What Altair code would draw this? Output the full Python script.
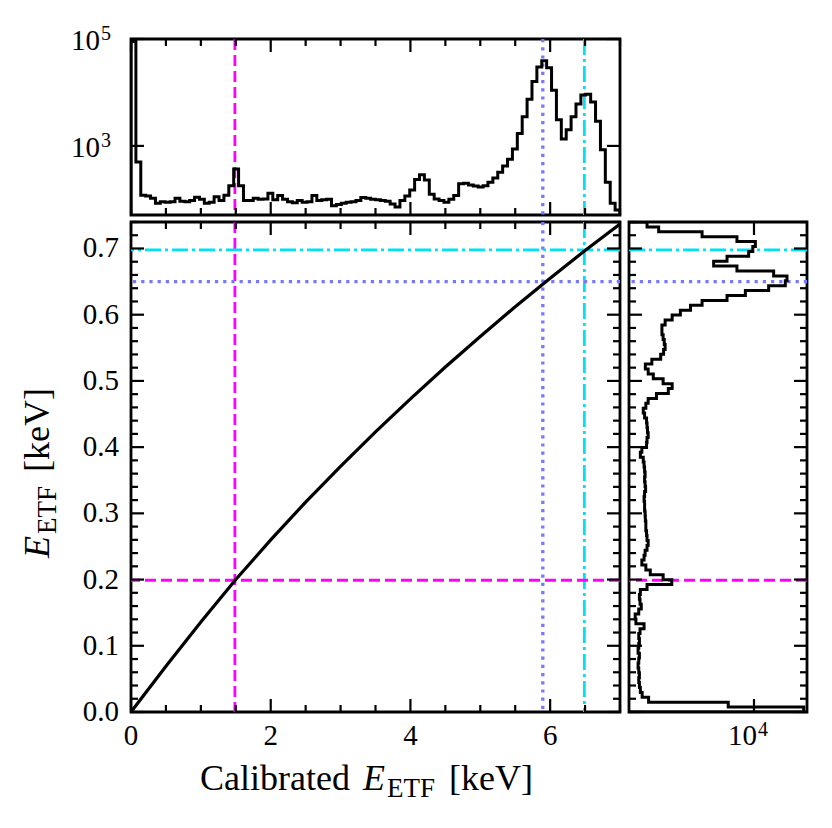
import altair as alt
import pandas as pd

FONT = "Liberation Serif"

# ---------------- data ----------------
CURVE_X = [0, 0.5, 1, 1.5, 2, 2.5, 3, 3.5, 4, 4.5, 5, 5.5, 6, 6.5, 7]
CURVE_Y = [0.0, 0.069, 0.136, 0.200, 0.260, 0.317, 0.371, 0.423, 0.473,
           0.521, 0.567, 0.612, 0.655, 0.697, 0.737]

# calibration lines: Al K-alpha, Mn K-alpha, Mn K-beta
V_LINES = [1.487, 5.895, 6.490]
H_LINES = [0.199, 0.650, 0.698]
LINE_COLORS = ["#ff00ff", "#7878ff", "#00e1f5"]
LINE_DASHES = [[11, 5], [3.2, 5], [16, 4, 3, 4]]
LINE_WIDTHS = [2.8, 3.3, 2.8]

TOP_LO, TOP_HI, TOP_BINS = 0.0, 7.0, 100
TOP_COUNTS = [
    90000, 500, 120, 115, 105, 85, 90, 88, 90, 105,
    92, 90, 95, 110, 100, 85, 88, 112, 95, 120,
    180, 370, 180, 95, 95, 105, 100, 102, 130, 98,
    118, 100, 90, 86, 95, 88, 90, 118, 95, 98,
    100, 76, 80, 85, 88, 90, 95, 108, 105, 100,
    98, 95, 92, 82, 72, 95, 115, 150, 235, 290,
    230, 125, 102, 95, 88, 100, 118, 195, 200, 185,
    178, 170, 180, 210, 250, 320, 420, 560, 880, 1700,
    3500, 7500, 16000, 30000, 39000, 29000, 11000, 3100, 1350, 2000,
    3500, 6100, 9000, 9300, 6600, 2900, 850, 210, 85, 63]
TOP_FLOOR = 51

RIGHT_LO, RIGHT_HI, RIGHT_BINS = 0.0, 0.74, 100
RIGHT_COUNTS = [
    85000, 3300, 107, 81, 75, 72, 70, 72, 70, 68,
    70, 72, 68, 70, 72, 70, 74, 88, 62, 60,
    70, 78, 74, 72, 75, 100, 290, 200, 115, 95,
    80, 88, 92, 100, 105, 100, 98, 95, 95, 93,
    92, 90, 90, 88, 90, 94, 92, 90, 92, 90,
    88, 85, 75, 80, 98, 100, 105, 102, 100, 98,
    90, 85, 95, 105, 150, 250, 295, 200, 131, 105,
    93, 123, 180, 204, 218, 210, 200, 190, 190, 218,
    295, 420, 650, 1070, 3130, 6900, 18800, 38500, 41400, 23300,
    4800, 1760, 3130, 7950, 9500, 10600, 4800, 1070, 165, 100]
RIGHT_FLOOR = 46

X_MAJOR = [0, 2, 4, 6]
X_LABELS = ["0", "2", "4", "6"]
X_MINOR = [0.5, 1, 1.5, 2.5, 3, 3.5, 4.5, 5, 5.5, 6.5, 7]
Y_MAJOR = [0.0, 0.1, 0.2, 0.3, 0.4, 0.5, 0.6, 0.7]
Y_LABELS = ["0.0", "0.1", "0.2", "0.3", "0.4", "0.5", "0.6", "0.7"]
Y_MINOR = [round(0.02 * i, 2) for i in range(1, 38) if i % 5]
TOP_Y_TICKS = [1e3, 1e5]
TOP_Y_EXP = ["3", "5"]
RIGHT_X_TICKS = [1e4]
RIGHT_X_EXP = ["4"]

# ---------------- layout constants ----------------
W_MAIN, H_MAIN = 489, 490
H_TOP = 176
W_RIGHT = 178
MAJ, MIN_ = 13, 7
TICK_W = 2.2
LBL = 29
SUP = 20
HIST_W = 3.0

xs = alt.Scale(domain=[0, 7], nice=False, zero=False)
ys = alt.Scale(domain=[0, 0.74], nice=False, zero=False)
cs_top = alt.Scale(type="log", domain=[TOP_FLOOR, 1e5], nice=False)
cs_right = alt.Scale(type="log", domain=[RIGHT_FLOOR, 9.8e4], nice=False)

one = pd.DataFrame({"a": [0]})


def ticks_x(vals, length, H, scale):
    b = alt.Chart(pd.DataFrame({"v": vals})).mark_rule(color="black", strokeWidth=TICK_W)
    x = alt.X("v:Q", scale=scale, axis=None)
    return [b.encode(x=x, y=alt.value(H), y2=alt.value(H - length)),
            b.encode(x=x, y=alt.value(0), y2=alt.value(length))]


def ticks_y(vals, length, W, scale):
    b = alt.Chart(pd.DataFrame({"v": vals})).mark_rule(color="black", strokeWidth=TICK_W)
    y = alt.Y("v:Q", scale=scale, axis=None)
    return [b.encode(y=y, x=alt.value(0), x2=alt.value(length)),
            b.encode(y=y, x=alt.value(W), x2=alt.value(W - length))]


def vrules(scale):
    out = []
    for v, c, d, w in zip(V_LINES, LINE_COLORS, LINE_DASHES, LINE_WIDTHS):
        out.append(alt.Chart(pd.DataFrame({"v": [v]})).mark_rule(color=c, strokeDash=d, strokeWidth=w)
                   .encode(x=alt.X("v:Q", scale=scale, axis=None)))
    return out


def hrules(scale):
    out = []
    for v, c, d, w in zip(H_LINES, LINE_COLORS, LINE_DASHES, LINE_WIDTHS):
        out.append(alt.Chart(pd.DataFrame({"v": [v]})).mark_rule(color=c, strokeDash=d, strokeWidth=w)
                   .encode(y=alt.Y("v:Q", scale=scale, axis=None)))
    return out


def txt(s, x, y, size=36, style="normal", angle=0):
    return alt.Chart(one).mark_text(text=s, font=FONT, fontSize=size, fontStyle=style, angle=angle,
                                    align="left", baseline="alphabetic", color="black").encode(
        x=alt.value(x), y=alt.value(y))


# ---------------- main panel ----------------
curve_df = pd.DataFrame({"x": CURVE_X, "y": CURVE_Y})
curve = alt.Chart(curve_df).mark_line(color="black", strokeWidth=3.2, clip=True).encode(
    x=alt.X("x:Q", scale=xs, axis=None),
    y=alt.Y("y:Q", scale=ys, axis=None),
)
xlab = alt.Chart(pd.DataFrame({"v": X_MAJOR, "t": X_LABELS})).mark_text(
    font=FONT, fontSize=LBL, align="center", baseline="alphabetic", color="black").encode(
    x=alt.X("v:Q", scale=xs, axis=None), y=alt.value(H_MAIN + 33), text="t:N")
ylab = alt.Chart(pd.DataFrame({"v": Y_MAJOR, "t": Y_LABELS})).mark_text(
    font=FONT, fontSize=LBL, align="right", baseline="middle", color="black").encode(
    y=alt.Y("v:Q", scale=ys, axis=None), x=alt.value(-12), text="t:N")

main_layers = vrules(xs) + hrules(ys) + [curve, xlab, ylab]
main_layers += ticks_x(X_MAJOR, MAJ, H_MAIN, xs) + ticks_x(X_MINOR, MIN_, H_MAIN, xs)
main_layers += ticks_y(Y_MAJOR, MAJ, W_MAIN, ys) + ticks_y(Y_MINOR, MIN_, W_MAIN, ys)
# axis titles (with subscripts)
main_layers += [
    txt("Calibrated", 69, 568),
    txt("E", 232, 568, style="italic"),
    txt("ETF", 256, 575, size=27),
    txt("[keV]", 318, 568),
    txt("E", -82, 336, style="italic", angle=270),
    txt("ETF", -75, 312, size=27, angle=270),
    txt("[keV]", -82, 250, angle=270),
]
# invisible guide fixing the left extent
main_layers.append(alt.Chart(one).mark_rule(opacity=0).encode(
    x=alt.value(-121), x2=alt.value(-120), y=alt.value(10)))
main = alt.layer(*main_layers).properties(width=W_MAIN, height=H_MAIN)

# ---------------- top histogram ----------------
tw = (TOP_HI - TOP_LO) / TOP_BINS
top_e = [TOP_LO] + [TOP_LO + tw * k for k in range(TOP_BINS)] + [TOP_HI, TOP_HI]
top_c = [TOP_FLOOR] + TOP_COUNTS + [TOP_COUNTS[-1], TOP_FLOOR]
top_df = pd.DataFrame({"e": top_e, "c": top_c, "i": list(range(len(top_e)))})
top_hist = alt.Chart(top_df).mark_line(color="black", strokeWidth=HIST_W, interpolate="step-after",
                                       clip=True).encode(
    x=alt.X("e:Q", scale=xs, axis=None),
    y=alt.Y("c:Q", scale=cs_top, axis=None),
    order=alt.Order("i:Q"),
)
top_lab_df = pd.DataFrame({"v": TOP_Y_TICKS, "e": TOP_Y_EXP})
top_base = alt.Chart(top_lab_df).mark_text(text="10", font=FONT, fontSize=LBL, align="right",
                                           baseline="alphabetic", dy=11, color="black").encode(
    y=alt.Y("v:Q", scale=cs_top, axis=None), x=alt.value(-31))
top_sup = alt.Chart(top_lab_df).mark_text(font=FONT, fontSize=SUP, align="left",
                                          baseline="alphabetic", dy=1, color="black").encode(
    y=alt.Y("v:Q", scale=cs_top, axis=None), x=alt.value(-30), text="e:N")
top_layers = vrules(xs) + [top_hist, top_base, top_sup]
top_layers += ticks_x(X_MAJOR, MAJ, H_TOP, xs) + ticks_x(X_MINOR, MIN_, H_TOP, xs)
top_layers += ticks_y(TOP_Y_TICKS, MAJ, W_MAIN, cs_top)
top_layers.append(alt.Chart(one).mark_rule(opacity=0).encode(
    x=alt.value(0), x2=alt.value(1), y=alt.value(-29)))
top = alt.layer(*top_layers).properties(width=W_MAIN, height=H_TOP)

# ---------------- right histogram ----------------
rw = (RIGHT_HI - RIGHT_LO) / RIGHT_BINS
r_e = [RIGHT_LO] + [RIGHT_LO + rw * k for k in range(RIGHT_BINS)] + [RIGHT_HI, RIGHT_HI]
r_c = [RIGHT_FLOOR] + RIGHT_COUNTS + [RIGHT_COUNTS[-1], RIGHT_FLOOR]
r_df = pd.DataFrame({"e": r_e, "c": r_c, "i": list(range(len(r_e)))})
r_hist = alt.Chart(r_df).mark_line(color="black", strokeWidth=HIST_W, interpolate="step-before",
                                   clip=True).encode(
    x=alt.X("c:Q", scale=cs_right, axis=None),
    y=alt.Y("e:Q", scale=ys, axis=None),
    order=alt.Order("i:Q"),
)
r_lab_df = pd.DataFrame({"v": RIGHT_X_TICKS, "e": RIGHT_X_EXP})
r_base = alt.Chart(r_lab_df).mark_text(text="10", font=FONT, fontSize=LBL, align="right",
                                       baseline="alphabetic", dx=3, color="black").encode(
    x=alt.X("v:Q", scale=cs_right, axis=None), y=alt.value(H_MAIN + 33))
r_sup = alt.Chart(r_lab_df).mark_text(font=FONT, fontSize=SUP, align="left",
                                      baseline="alphabetic", dx=4, color="black").encode(
    x=alt.X("v:Q", scale=cs_right, axis=None), y=alt.value(H_MAIN + 24), text="e:N")
r_layers = hrules(ys) + [r_hist, r_base, r_sup]
r_layers += ticks_y(Y_MAJOR, MAJ, W_RIGHT, ys) + ticks_y(Y_MINOR, MIN_, W_RIGHT, ys)
r_layers += ticks_x(RIGHT_X_TICKS, MAJ, H_MAIN, cs_right)
right = alt.layer(*r_layers).properties(width=W_RIGHT, height=H_MAIN)

# ---------------- blank corner ----------------
blank = alt.Chart(one).mark_point(opacity=0).encode(x=alt.value(0), y=alt.value(0)).properties(
    width=1, height=1, view=alt.ViewBackground(strokeOpacity=0))

chart = alt.concat(top, blank, main, right, columns=2, spacing={"row": -1, "column": 1},
                   align="each").properties(
    padding=0, background="white"
).configure_view(stroke="black", strokeWidth=2.8)

chart.save("out.html", embed_options={"renderer": "svg", "actions": False})
